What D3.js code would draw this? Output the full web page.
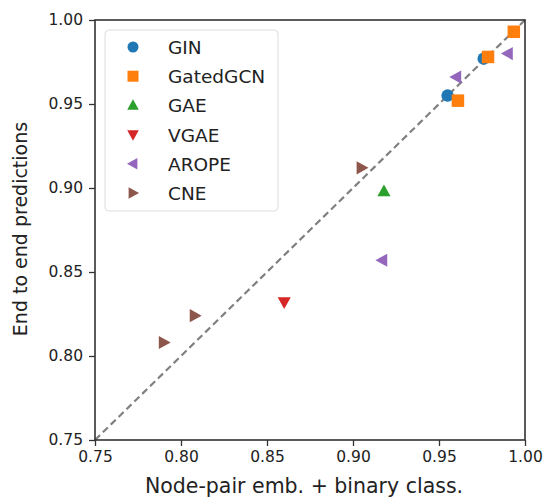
<!DOCTYPE html>
<html>
<head>
<meta charset="utf-8">
<script src="https://cdn.jsdelivr.net/npm/d3@7"></script>
<style>
  body { margin: 0; background: #fff; }
  svg text { font-family: "DejaVu Sans", sans-serif; fill: #222; }
</style>
</head>
<body>
<div id="graph"></div>
<script>
// series names and values: [emb + binary class, end to end]
const methods = ["GIN", "GatedGCN", "GAE", "VGAE", "AROPE", "CNE"];
const ginPts = [[0.955, 0.955], [0.976, 0.977]];
const gatedPts = [[0.961, 0.952], [0.9785, 0.978], [0.9935, 0.993]];
const gaePts = [[0.918, 0.898]];
const vgaePts = [[0.860, 0.832]];
const aropePts = [[0.960, 0.966], [0.990, 0.980], [0.917, 0.857]];
const cnePts = [[0.790, 0.808], [0.808, 0.824], [0.905, 0.912]];
const tickVals = [0.75, 0.80, 0.85, 0.90, 0.95, 1.00];

const seriesData = [ginPts, gatedPts, gaePts, vgaePts, aropePts, cnePts];
const colors = ["#1f77b4", "#ff7f0e", "#2ca02c", "#d62728", "#9467bd", "#8c564b"];

const margin = {left: 95, top: 20, right: 21, bottom: 59};
const W = 546, H = 499;

const svg = d3.select("#graph").append("svg")
    .attr("width", W)
    .attr("height", H);

const x = d3.scaleLinear().domain([0.75, 1.0]).range([margin.left, W - margin.right]);
const y = d3.scaleLinear().domain([0.75, 1.0]).range([H - margin.bottom, margin.top]);

// diagonal
svg.append("line")
    .attr("x1", x(0.75)).attr("y1", y(0.75))
    .attr("x2", x(1.0)).attr("y2", y(1.0))
    .attr("stroke", "#808080")
    .attr("stroke-width", 2.2)
    .attr("stroke-dasharray", "7,4");

// marker shapes
function shape(g, i, s) {
    const h = s / 2;
    if (i === 0) {
        g.append("circle").attr("r", h);
    } else if (i === 1) {
        g.append("rect").attr("x", -h).attr("y", -h).attr("width", s).attr("height", s);
    } else {
        let pts;
        if (i === 2) pts = [[0, -h * 1.1], [h * 1.05, h * 0.8], [-h * 1.05, h * 0.8]];
        if (i === 3) pts = [[0, h * 1.1], [h * 1.05, -h * 0.8], [-h * 1.05, -h * 0.8]];
        if (i === 4) pts = [[-h * 1.1, 0], [h * 0.8, -h * 1.05], [h * 0.8, h * 1.05]];
        if (i === 5) pts = [[h * 1.1, 0], [-h * 0.8, -h * 1.05], [-h * 0.8, h * 1.05]];
        g.append("path").attr("d", d3.line()(pts) + "Z");
    }
}

seriesData.forEach((pts, i) => {
    pts.forEach(p => {
        const g = svg.append("g")
            .attr("transform", `translate(${x(p[0])},${y(p[1])})`)
            .attr("fill", colors[i]);
        shape(g, i, 12.5);
    });
});

// axes
const xAxis = svg.append("g")
    .attr("transform", `translate(0,${H - margin.bottom})`)
    .call(d3.axisBottom(x).tickValues(tickVals).tickFormat(d3.format(".2f")).tickSize(6).tickPadding(5));
const yAxis = svg.append("g")
    .attr("transform", `translate(${margin.left},0)`)
    .call(d3.axisLeft(y).tickValues(tickVals).tickFormat(d3.format(".2f")).tickSize(6).tickPadding(6));
[xAxis, yAxis].forEach(a => {
    a.selectAll("text").attr("font-size", 15.5).attr("fill", "#222");
    a.selectAll("line").attr("stroke", "#333").attr("stroke-width", 1.3);
    a.select(".domain").remove();
});

// frame
svg.append("rect")
    .attr("x", margin.left).attr("y", margin.top)
    .attr("width", W - margin.left - margin.right)
    .attr("height", H - margin.top - margin.bottom)
    .attr("fill", "none")
    .attr("stroke", "#333")
    .attr("stroke-width", 1.6);

// axis labels
svg.append("text")
    .attr("x", 304)
    .attr("y", 493)
    .attr("text-anchor", "middle")
    .attr("font-size", 20.5)
    .text("Node-pair emb. + binary class.");
svg.append("text")
    .attr("transform", `translate(27,229) rotate(-90)`)
    .attr("text-anchor", "middle")
    .attr("font-size", 19)
    .text("End to end predictions");

// legend
const legend = svg.append("g").attr("transform", "translate(105,30)");
legend.append("rect")
    .attr("width", 173).attr("height", 181)
    .attr("rx", 4)
    .attr("fill", "#fff")
    .attr("fill-opacity", 0.8)
    .attr("stroke", "#ddd");
methods.forEach((m, i) => {
    const row = legend.append("g").attr("transform", `translate(0,${17 + i * 29.2})`);
    const mk = row.append("g").attr("transform", "translate(28,0)").attr("fill", colors[i]);
    shape(mk, i, 11);
    row.append("text")
        .attr("x", 63).attr("y", 7)
        .attr("font-size", 18.5)
        .text(m);
});
</script>
</body>
</html>
